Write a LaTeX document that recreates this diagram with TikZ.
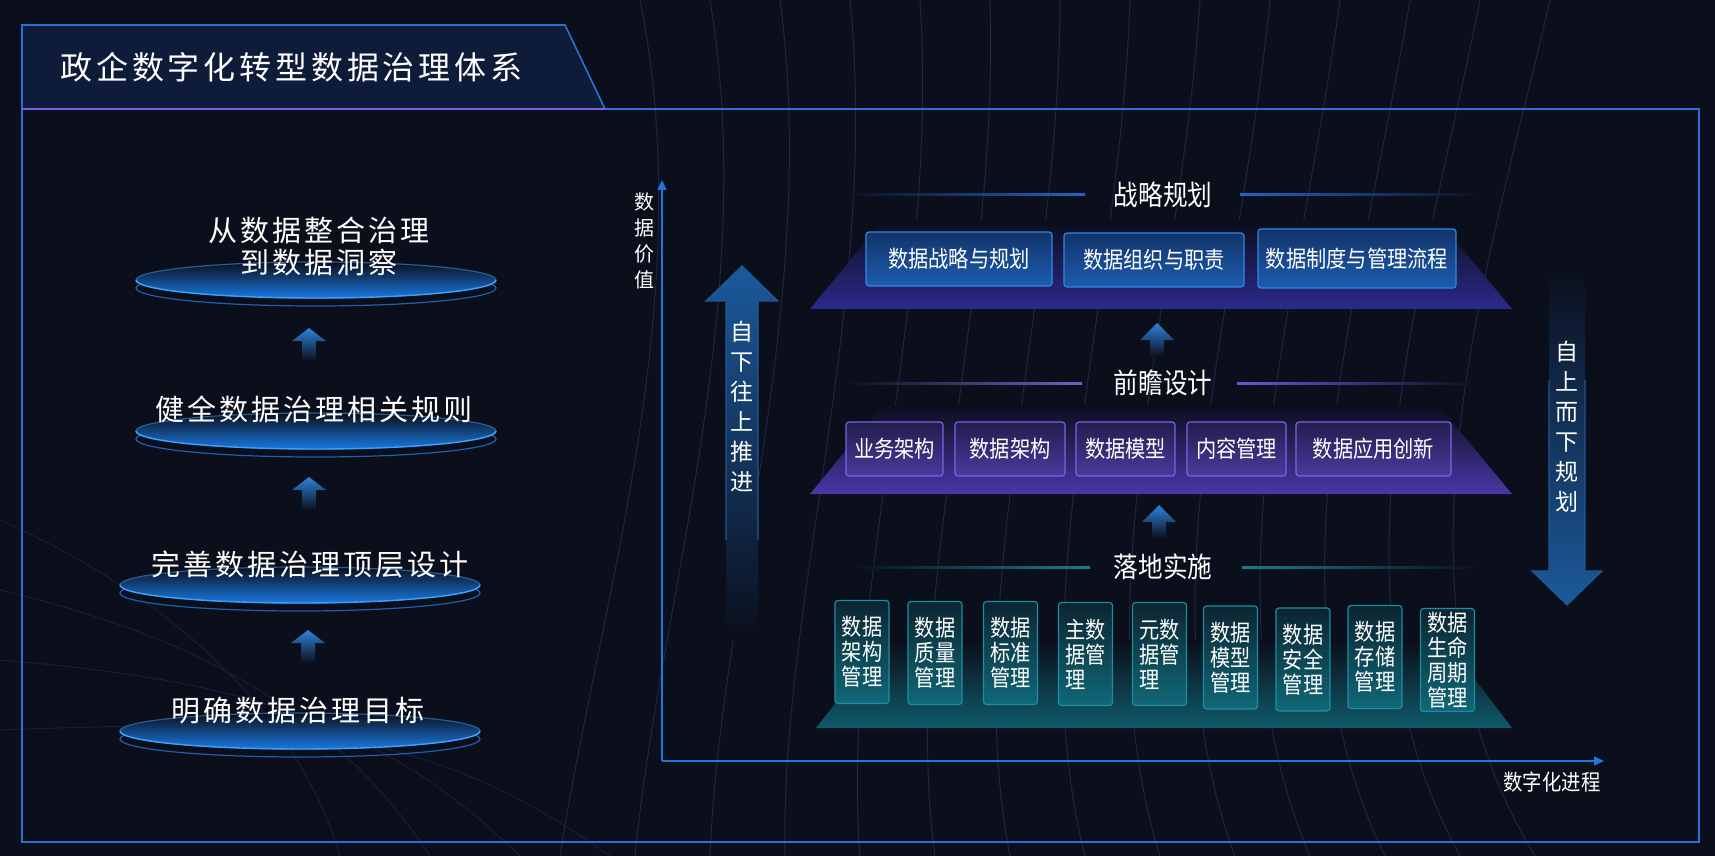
\documentclass[tikz,border=0pt]{standalone}
\usepackage{fontspec}
\setmainfont{Noto Sans CJK SC}
\newfontfamily\narrowfont[FakeStretch=0.88]{Noto Sans CJK SC}
\newfontfamily\leftfont[LetterSpace=10]{Noto Sans CJK SC}
\newfontfamily\titlefont[LetterSpace=12]{Noto Sans CJK SC}
\usetikzlibrary{arrows.meta}

\definecolor{bgc}{HTML}{0B0E1B}
\definecolor{framec}{HTML}{2A70D8}
\definecolor{bannerc}{HTML}{0E1C3A}
\definecolor{axisc}{HTML}{2275DD}
\definecolor{arrowc}{HTML}{1B5A9C}
\definecolor{smallarr}{HTML}{2E82DA}
\definecolor{ellc}{HTML}{1A78E0}
\definecolor{rimc}{HTML}{3AA2FF}
\definecolor{ringc}{HTML}{1E5FB0}
\definecolor{bluetop}{HTML}{12336A}
\definecolor{bluebot}{HTML}{1C5DAE}
\definecolor{blueedge}{HTML}{2F88E2}
\definecolor{purptop}{HTML}{221D4C}
\definecolor{purpbot}{HTML}{4A3A9E}
\definecolor{purpedge}{HTML}{7C62E6}
\definecolor{tealtop}{HTML}{0C2431}
\definecolor{tealbot}{HTML}{106878}
\definecolor{tealedge}{HTML}{1D8EA2}
\definecolor{trapA}{HTML}{2C2A8C}
\definecolor{trapB}{HTML}{4A37A8}
\definecolor{trapC}{HTML}{0F5A6A}
\definecolor{lineA}{HTML}{2563C8}
\definecolor{lineB}{HTML}{6B55D8}
\definecolor{lineC}{HTML}{1A7C8C}
\definecolor{bgline}{HTML}{1C2746}

\begin{document}
\begin{tikzpicture}[x=0.5pt, y=-0.5pt,
    every node/.style={text=white, inner sep=0},
    lefttext/.style={font=\leftfont\fontsize{14.5}{16}\selectfont, align=center},
    vtext/.style={font=\fontsize{11.5}{15}\selectfont, align=center},
    sect/.style={font=\narrowfont\fontsize{14}{16}\selectfont},
    bluebox/.style={draw=blueedge, top color=bluetop, bottom color=bluebot, line width=0.6pt, rounded corners=1.5pt, minimum height=27pt, font=\narrowfont\fontsize{11.5}{13}\selectfont},
    purpbox/.style={draw=purpedge, top color=purptop, bottom color=purpbot, line width=0.6pt, rounded corners=1.5pt, minimum height=27pt, font=\narrowfont\fontsize{11.5}{13}\selectfont},
    tealbox/.style={draw=tealedge, top color=tealtop, bottom color=tealbot, line width=0.6pt, rounded corners=1.5pt, minimum width=27pt, minimum height=51.5pt, align=left, font=\narrowfont\fontsize{11.5}{12.5}\selectfont},
    axis/.style={axisc, line width=0.75pt, -{Triangle[length=5pt,width=4.5pt]}}]

    \useasboundingbox (0,0) rectangle (1715,856);
    \fill[bgc] (0,0) rectangle (1715,856);

    \foreach \i in {0,...,13}
        \draw[bgline, line width=0.5pt] (640+70*\i,0) .. controls (700+60*\i,300) and (600+60*\i,600) .. (560+75*\i,856);
    \foreach \i in {0,...,3}
        \draw[bgline!70!bgc, line width=0.5pt] (0,520+70*\i) .. controls (180+30*\i,600+40*\i) and (300+40*\i,720) .. (340+90*\i,856);

    \fill[bannerc] (22,25) -- (565,25) -- (605,109) -- (22,109) -- cycle;
    \draw[framec, line width=0.8pt] (22,109) -- (22,25) -- (565,25) -- (605,109);
    \draw[purpedge, line width=1pt] (22,109) -- (605,109);
    \node[font=\titlefont\fontsize{16}{18}\selectfont, anchor=west] (title) at (60,67) {政企数字化转型数据治理体系};
    \draw[framec, line width=0.6pt] (605,109) -- (1699,109) -- (1699,842) -- (22,842) -- (22,109);

    \foreach \cx/\cy in {316/280, 316/431, 300/585, 300/731} {
        \draw[ringc, line width=0.6pt] (\cx,\cy+8) ellipse (180 and 18);
        \shade[top color=bgc, middle color=bgc!55!ellc, bottom color=ellc] (\cx,\cy) ellipse (180 and 18);
        \draw[rimc!55!bgc, line width=0.6pt] (\cx,\cy) ellipse (180 and 18);
        \draw[rimc, line width=0.7pt] (\cx-180,\cy) arc[start angle=180, end angle=360, x radius=180, y radius=-18];
    }
    \node[lefttext] (goal4) at (319,246) {从数据整合治理\\到数据洞察};
    \node[lefttext] (goal3) at (314,409) {健全数据治理相关规则};
    \node[lefttext] (goal2) at (310,564) {完善数据治理顶层设计};
    \node[lefttext] (goal1) at (298,711) {明确数据治理目标};

    \foreach \ax/\ay in {309/328, 309/477, 308/630}
        \shade[top color=smallarr, bottom color=bgc] (\ax,\ay) -- ++(17,13) -- ++(-10,0) -- ++(0,20) -- ++(-14,0) -- ++(0,-20) -- ++(-10,0) -- cycle;

    \coordinate (o) at (662,761);
    \draw[axis] (o) -- (662,180);
    \draw[axis] (o) -- (1604,761);
    \node[font=\fontsize{10}{13}\selectfont, align=center] (ylab) at (644,241) {数\\据\\价\\值};
    \node[font=\narrowfont\fontsize{11}{13}\selectfont] (xlab) at (1552,782) {数字化进程};

    \shade[top color=arrowc, middle color=arrowc!75!bgc, bottom color=bgc] (742,266) -- (778,301) -- (758,301) -- (758,640) -- (726,640) -- (726,301) -- (706,301) -- cycle;
    \draw[blueedge!60!bgc, line width=0.6pt] (726,540) -- (726,301) -- (706,301) -- (742,266) -- (778,301) -- (758,301) -- (758,540);
    \node[vtext] (upward) at (742,407) {自\\下\\往\\上\\推\\进};

    \shade[top color=bgc, middle color=arrowc!75!bgc, bottom color=arrowc] (1549,265) -- (1585,265) -- (1585,571) -- (1602,571) -- (1567,605) -- (1532,571) -- (1549,571) -- cycle;
    \draw[blueedge!60!bgc, line width=0.6pt] (1549,380) -- (1549,571) -- (1532,571) -- (1567,605) -- (1602,571) -- (1585,571) -- (1585,380);
    \node[vtext] (downward) at (1567,427) {自\\上\\而\\下\\规\\划};

    \shade[top color=bgc, bottom color=trapA] (883,220) -- (1438,220) -- (1512,309) -- (810,309) -- cycle;
    \shade[top color=bgc, bottom color=trapB] (883,405) -- (1438,405) -- (1512,494) -- (810,494) -- cycle;
    \shade[top color=bgc, bottom color=trapC] (885,640) -- (1445,640) -- (1512,728) -- (816,728) -- cycle;

    \node[sect] (plan) at (1163,195) {战略规划};
    \shade[left color=bgc, right color=lineA] (842,194) rectangle (1085,196);
    \shade[left color=lineA, right color=bgc] (1240,194) rectangle (1487,196);
    \node[sect] (design) at (1163,383) {前瞻设计};
    \shade[left color=bgc, right color=lineB!70!gray] (842,382) rectangle (1082,384);
    \shade[left color=lineB, right color=bgc] (1237,382) rectangle (1480,384);
    \node[sect] (impl) at (1163,567) {落地实施};
    \shade[left color=bgc, right color=lineC] (849,566) rectangle (1090,568);
    \shade[left color=lineC, right color=bgc] (1242,566) rectangle (1484,568);

    \node[bluebox, minimum width=93pt] (r1a) at (959,259) {数据战略与规划};
    \node[bluebox, minimum width=90pt] (r1b) at (1154,260) {数据组织与职责};
    \node[bluebox, minimum width=99pt, minimum height=29.5pt] (r1c) at (1357,258.5) {数据制度与管理流程};

    \shade[top color=smallarr, bottom color=bgc] (1157,323) -- ++(17,17) -- ++(-10,0) -- ++(0,17) -- ++(-14,0) -- ++(0,-17) -- ++(-10,0) -- cycle;

    \node[purpbox, minimum width=48.5pt] (r2a) at (894.5,449) {业务架构};
    \node[purpbox, minimum width=55pt] (r2b) at (1010,449) {数据架构};
    \node[purpbox, minimum width=49.5pt] (r2c) at (1125.5,449) {数据模型};
    \node[purpbox, minimum width=49.5pt] (r2d) at (1236.5,449) {内容管理};
    \node[purpbox, minimum width=77.5pt] (r2e) at (1373.5,449) {数据应用创新};

    \shade[top color=smallarr, bottom color=bgc] (1159,505) -- ++(17,17) -- ++(-10,0) -- ++(0,17) -- ++(-14,0) -- ++(0,-17) -- ++(-10,0) -- cycle;

    \foreach \x/\y/\txt [count=\i] in {862/652/{数据\\架构\\管理}, 935/653/{数据\\质量\\管理}, 1010.5/653/{数据\\标准\\管理}, 1085.5/654/{主数\\据管\\理}, 1159.5/654/{元数\\据管\\理}, 1230.5/657.5/{数据\\模型\\管理}, 1303/659.5/{数据\\安全\\管理}, 1375/657/{数据\\存储\\管理}, 1447.5/660/{数据\\生命\\周期\\管理}}
        \node[tealbox] (r3-\i) at (\x,\y) {\txt};
\end{tikzpicture}
\end{document}
